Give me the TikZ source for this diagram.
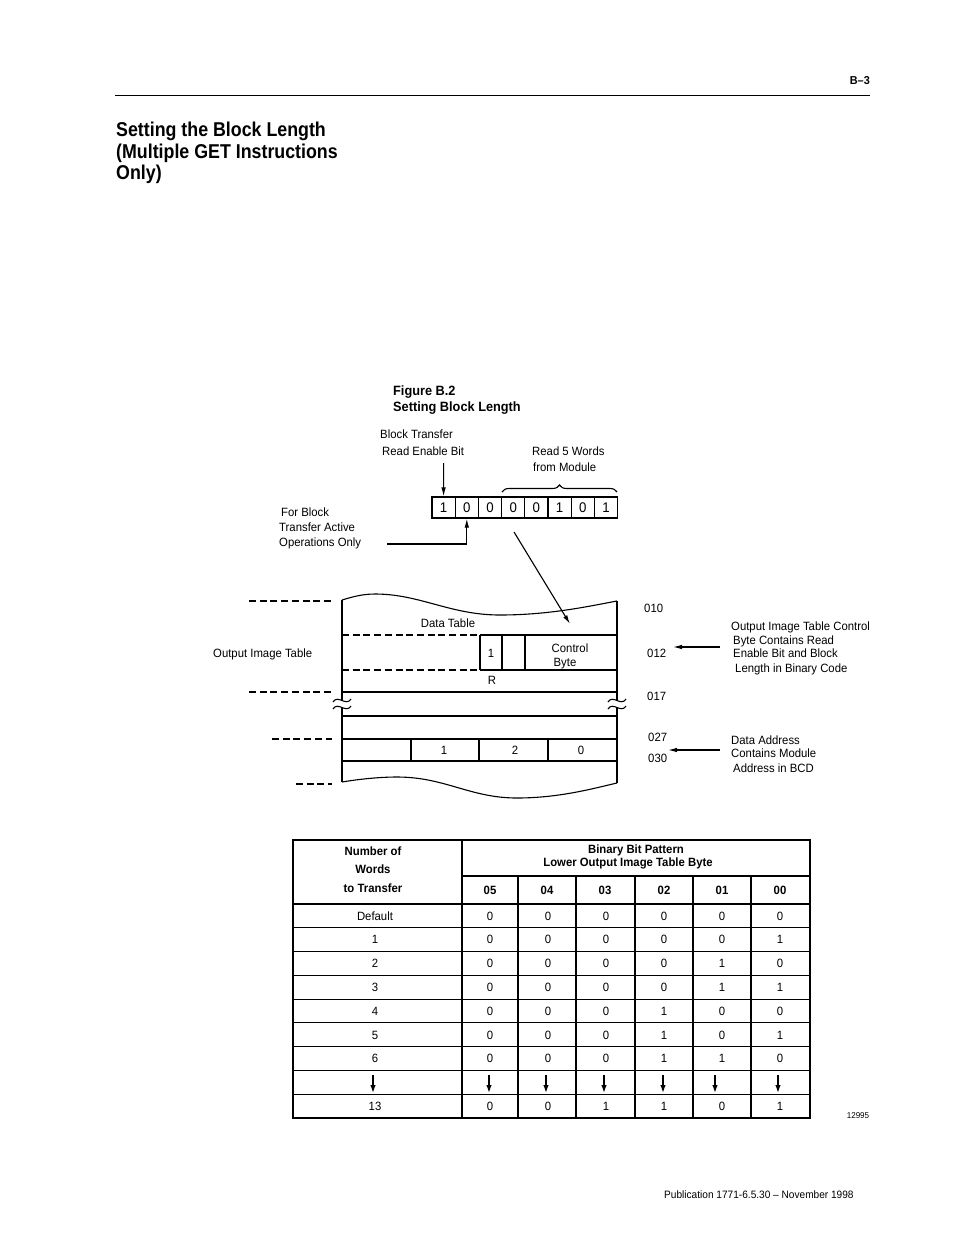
\documentclass[tikz,border=0pt]{standalone}
\usepackage{fontspec}
\setmainfont{Liberation Sans}[FakeStretch=0.945]
\newfontfamily\titlefont{Liberation Sans}[FakeStretch=0.89]
\usetikzlibrary{arrows.meta,decorations.pathreplacing}
\begin{document}
\begin{tikzpicture}[x=1pt,y=-1pt,
  every node/.style={inner sep=0pt},
  body/.style={font=\fontsize{12}{14}\selectfont},
  bodyb/.style={font=\fontsize{12}{14}\selectfont\bfseries},
  lbl/.style={body,anchor=base west},
  ctr/.style={body,anchor=base},
  ctrb/.style={bodyb,anchor=base},
  ln/.style={line width=1.1pt},
  dsh/.style={line width=1.1pt,dash pattern=on 7pt off 3.7pt},
  arr/.style={line width=1.1pt,-{Latex[length=9pt,width=4.5pt]}},
  darr/.style={line width=1.4pt,-{Latex[length=8pt,width=5.5pt]}},
  bitbox/.style={draw,line width=1.1pt,minimum width=23.2pt,minimum height=21pt,font=\fontsize{14}{16}\selectfont},
]
\useasboundingbox (0,0) rectangle (954,1235);
\fill[white] (0,0) rectangle (954,1235);

% ---------- page header ----------
\node[anchor=base east,font=\fontsize{11.5}{14}\selectfont\bfseries] (pg) at (870,84) {B–3};
\coordinate (r1) at (115,95);
\coordinate (r2) at (870,95);
\draw[line width=1pt] (r1) -- (r2);

\node[anchor=base west,font=\fontsize{20}{22}\selectfont\titlefont\bfseries] (t1) at (116,136.5) {Setting the Block Length};
\node[anchor=base west,font=\fontsize{20}{22}\selectfont\titlefont\bfseries] (t2) at (116,158) {(Multiple GET Instructions};
\node[anchor=base west,font=\fontsize{20}{22}\selectfont\titlefont\bfseries] (t3) at (116,179.5) {Only)};

% ---------- figure caption ----------
\node[anchor=base west,font=\fontsize{13.5}{15}\selectfont\bfseries] (f1) at (393,395) {Figure B.2};
\node[anchor=base west,font=\fontsize{13.5}{15}\selectfont\bfseries] (f2) at (393,411) {Setting Block Length};

% ---------- bit pattern ----------
\node[lbl] (bt1) at (380,438.5) {Block Transfer};
\node[lbl] (bt2) at (382,455.5) {Read Enable Bit};
\node[lbl] (rw1) at (532,455.5) {Read 5 Words};
\node[lbl] (rw2) at (533,471.5) {from Module};
\node[lbl] (fb1) at (281,516.5) {For Block};
\node[lbl] (fb2) at (279,531.5) {Transfer Active};
\node[lbl] (fb3) at (279,546.5) {Operations Only};

\foreach \v [count=\i] in {1,0,0,0,0,1,0,1}
  \node[bitbox] (b\i) at ({432+23.2*(\i-0.5)},507.5) {\v};

\coordinate (bra) at (502,492);
\coordinate (brb) at (617,492);
\draw[line width=1.1pt,decorate,decoration={brace,amplitude=7pt}] (bra) -- (brb);

\coordinate (rebA) at (443.6,463);
\draw[arr] (rebA) -- (b1.north);
\coordinate (fbA) at (387,544);
\draw[arr] (fbA) -| (b2.south);
\coordinate (dgA) at (514,532);
\coordinate (dgB) at (570,624);
\draw[arr] (dgA) -- (dgB);

% ---------- data table drawing ----------
\draw[ln] (342,600) .. controls (352,597) and (362,594) .. (375,594)
  .. controls (420,594) and (450,615) .. (500,615)
  .. controls (550,615) and (590,606) .. (617,601);
\draw[ln] (342,782) .. controls (360,779) and (380,777) .. (397,777)
  .. controls (445,777) and (470,798) .. (517,798)
  .. controls (560,798) and (595,788) .. (617,783);
\draw[ln] (342,600) -- (342,700);
\draw[ln] (342,707) -- (342,782);
\draw[ln] (617,601) -- (617,700);
\draw[ln] (617,707) -- (617,783);
\draw[ln] (333,702) .. controls (338,694) and (346,707) .. (351,699);
\draw[ln] (333,709) .. controls (338,701) and (346,714) .. (351,706);
\draw[ln] (608,702) .. controls (613,694) and (621,707) .. (626,699);
\draw[ln] (608,709) .. controls (613,701) and (621,714) .. (626,706);

\draw[dsh] (342,635) -- (480,635);
\draw[ln] (480,635) -- (617,635);
\draw[dsh] (342,670) -- (480,670);
\draw[ln] (480,670) -- (617,670);
\draw[ln] (342,692) -- (617,692);
\draw[ln] (342,716) -- (617,716);
\draw[ln] (342,739) -- (617,739);
\draw[ln] (342,761) -- (617,761);
\foreach \x in {480,502,525} \draw[ln] (\x,635) -- (\x,670);
\foreach \x in {411,479,548} \draw[ln] (\x,739) -- (\x,761);

\node[ctr] (dt) at (448,627.5) {Data Table};
\node[ctr] (one) at (491,657.5) {1};
\node[ctr] (cb1) at (570,652.5) {Control};
\node[ctr] (cb2) at (565,666) {Byte};
\node[ctr] (rr) at (492,684.5) {R};
\node[ctr] (d1) at (444,754.5) {1};
\node[ctr] (d2) at (515,754.5) {2};
\node[ctr] (d0) at (581,754.5) {0};

\draw[dsh] (249,601) -- (332,601);
\draw[dsh] (249,692) -- (332,692);
\draw[dsh] (272,739) -- (332,739);
\draw[dsh] (296,784) -- (332,784);
\node[lbl] (oit) at (213,657.5) {Output Image Table};

\node[lbl] (a010) at (644,612.5) {010};
\node[lbl] (a012) at (647,657.5) {012};
\node[lbl] (a017) at (647,700.5) {017};
\node[lbl] (a027) at (648,741.5) {027};
\node[lbl] (a030) at (648,762.5) {030};

\coordinate (ar1s) at (720,647);
\coordinate (ar1e) at (673,647);
\draw[arr] (ar1s) -- (ar1e);
\coordinate (ar2s) at (720,750);
\coordinate (ar2e) at (668,750);
\draw[arr] (ar2s) -- (ar2e);

\node[lbl] (c1) at (731,630.5) {Output Image Table Control};
\node[lbl] (c2) at (733,644.5) {Byte Contains Read};
\node[lbl] (c3) at (733,657.5) {Enable Bit and Block};
\node[lbl] (c4) at (735,672.5) {Length in Binary Code};
\node[lbl] (da1) at (731,744.5) {Data Address};
\node[lbl] (da2) at (731,757.5) {Contains Module};
\node[lbl] (da3) at (733,772.5) {Address in BCD};

% ---------- table ----------
\draw[ln] (293,840) rectangle (810,1118);
\draw[ln] (462,840) -- (462,1118);
\draw[ln] (462,876) -- (810,876);
\foreach \x in {518,576,635,693,751} \draw[ln] (\x,876) -- (\x,1118);
\draw[line width=2pt] (293,904) -- (810,904);
\foreach \k in {1,...,8} \draw[ln] (293,{904+23.78*\k}) -- (810,{904+23.78*\k});

\node[ctrb] (h1) at (373,855.5) {Number of};
\node[ctrb] (h2) at (373,873.5) {Words};
\node[ctrb] (h3) at (373,892.5) {to Transfer};
\node[ctrb] (h4) at (636,853.5) {Binary Bit Pattern};
\node[ctrb] (h5) at (628,866.5) {Lower Output Image Table Byte};
\foreach \h/\cx [count=\j] in {05/490,04/547,03/605,02/664,01/722,00/780}
  \node[ctrb] (ch\j) at (\cx,894.5) {\h};

\foreach \lab/\bits/\k in {Default/{0,0,0,0,0,0}/1, 1/{0,0,0,0,0,1}/2, 2/{0,0,0,0,1,0}/3,
    3/{0,0,0,0,1,1}/4, 4/{0,0,0,1,0,0}/5, 5/{0,0,0,1,0,1}/6, 6/{0,0,0,1,1,0}/7, 13/{0,0,1,1,0,1}/9} {
  \node[ctr] (w\k) at (375,{904+23.78*(\k-0.5)+4.3}) {\lab};
  \foreach \b [count=\j] in \bits
    \node[ctr] (v\k-\j) at ({462+58*(\j-0.5)-1},{904+23.78*(\k-0.5)+4.3}) {\b};
}
\foreach \x [count=\i] in {373,489,546,604,663,715,778} {
  \coordinate (ua\i) at (\x,1075);
  \coordinate (ub\i) at (\x,1093);
  \draw[darr] (ua\i) -- (ub\i);
}

\node[font=\fontsize{8.5}{10}\selectfont,anchor=base] (fig) at (858,1118) {12995};
\node[anchor=base west,font=\fontsize{10.7}{13}\selectfont] (pub) at (664,1198) {Publication 1771-6.5.30 – November 1998};
\end{tikzpicture}
\end{document}
